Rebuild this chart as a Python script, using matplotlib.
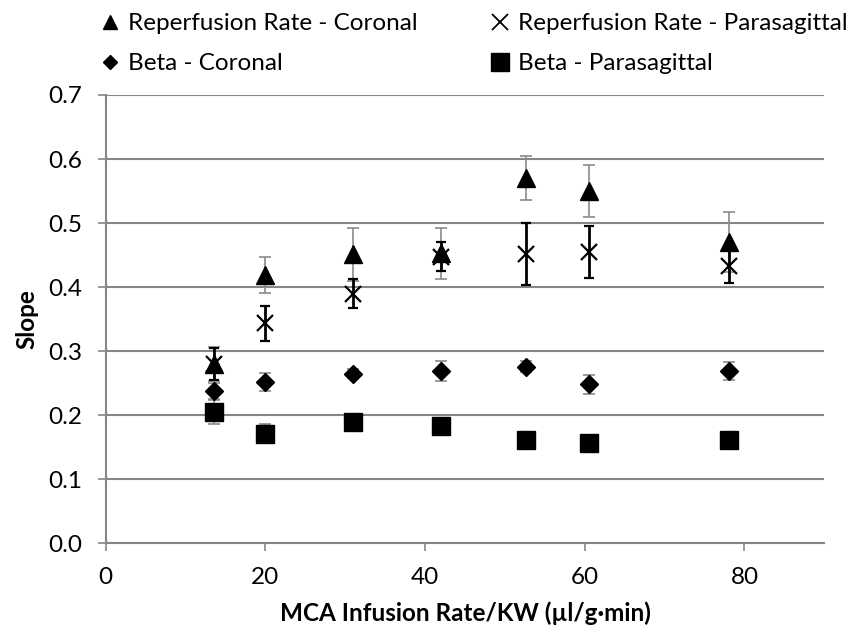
import matplotlib
matplotlib.use("Agg")
import matplotlib.pyplot as plt
from matplotlib.lines import Line2D

plt.rcParams['font.family'] = ['Lato', 'DejaVu Sans']

# ---- data ----
x_rate = [13.6, 20.0, 31.0, 42.0, 52.7, 60.5, 78.1]

rep_coronal = [0.280, 0.419, 0.451, 0.453, 0.570, 0.550, 0.471]
rep_coronal_err = [0.026, 0.028, 0.041, 0.040, 0.034, 0.040, 0.047]

rep_para = [0.280, 0.3435, 0.390, 0.4475, 0.452, 0.455, 0.433]
rep_para_err = [0.025, 0.0275, 0.023, 0.023, 0.048, 0.041, 0.027]

beta_coronal = [0.238, 0.252, 0.265, 0.269, 0.276, 0.248, 0.269]
beta_coronal_err = [0.013, 0.0145, 0.007, 0.015, 0.009, 0.0155, 0.0133]

beta_para = [0.205, 0.171, 0.189, 0.183, 0.162, 0.156, 0.161]
beta_para_err = [0.018, 0.015, 0.008, 0.008, 0.012, 0.012, 0.012]

labels = ["Reperfusion Rate - Coronal", "Reperfusion Rate - Parasagittal",
          "Beta - Coronal", "Beta - Parasagittal"]

x_ticks = [0, 20, 40, 60, 80]
y_ticks = [0.0, 0.1, 0.2, 0.3, 0.4, 0.5, 0.6, 0.7]

FS = 17.5

# ---- figure ----
fig = plt.figure(figsize=(8.53, 6.37), dpi=100)
ax = fig.add_axes([0.1239, 0.1471, 0.8425, 0.7038])

gray = '#868686'
ebar_gray = '#8a8a8a'

ax.errorbar(x_rate, rep_coronal, yerr=rep_coronal_err, fmt='^', ms=13,
            color='black', ecolor=ebar_gray, elinewidth=1.2, capsize=4.5,
            capthick=1.2, zorder=3)
ax.errorbar(x_rate, rep_para, yerr=rep_para_err, fmt='x', ms=12, mew=1.6,
            color='black', ecolor='black', elinewidth=2, capsize=3.5,
            capthick=2, zorder=4)
ax.errorbar(x_rate, beta_coronal, yerr=beta_coronal_err, fmt='D', ms=9,
            color='black', ecolor=ebar_gray, elinewidth=1.2, capsize=4.5,
            capthick=1.2, zorder=3)
ax.errorbar(x_rate, beta_para, yerr=beta_para_err, fmt='s', ms=13,
            color='black', ecolor=ebar_gray, elinewidth=1.2, capsize=4.5,
            capthick=1.2, zorder=3)

ax.set_xlim(0, 90)
ax.set_ylim(0, 0.7)
ax.set_xticks(x_ticks)
ax.set_yticks(y_ticks)
ax.set_yticklabels([f"{v:.1f}" for v in y_ticks])
ax.yaxis.grid(True, color=gray, lw=1.5)
ax.set_axisbelow(True)
for s in ['top', 'right']:
    ax.spines[s].set_visible(False)
for s in ['left', 'bottom']:
    ax.spines[s].set_color(gray)
    ax.spines[s].set_linewidth(1.5)
ax.tick_params(axis='both', colors=gray, labelcolor='black', labelsize=FS,
               length=6, width=1.2, direction='out')
ax.tick_params(axis='y', pad=11)
ax.tick_params(axis='x', pad=11)

ax.set_xlabel("MCA Infusion Rate/KW (µl/g·min)", fontsize=FS, fontweight='bold', labelpad=10)
ax.set_ylabel("Slope", fontsize=FS, fontweight='bold', labelpad=7)

# ---- legend (two columns) ----
h_tri = Line2D([], [], marker='^', ls='none', color='black', ms=10)
h_x = Line2D([], [], marker='x', ls='none', color='black', ms=12, mew=1.3)
h_dia = Line2D([], [], marker='D', ls='none', color='black', ms=7)
h_sq = Line2D([], [], marker='s', ls='none', color='black', ms=12.5)

common = dict(loc='upper left', frameon=False, fontsize=FS, handlelength=0.75,
              handletextpad=0.35, labelspacing=0.8, borderaxespad=0, borderpad=0)
leg1 = fig.legend(handles=[h_tri, h_dia], labels=[labels[0], labels[2]],
                  bbox_to_anchor=(101 / 853, 1 - 13 / 637), **common)
leg2 = fig.legend(handles=[h_x, h_sq], labels=[labels[1], labels[3]],
                  bbox_to_anchor=(491 / 853, 1 - 13 / 637), **common)

fig.savefig("out.png", dpi=100)
